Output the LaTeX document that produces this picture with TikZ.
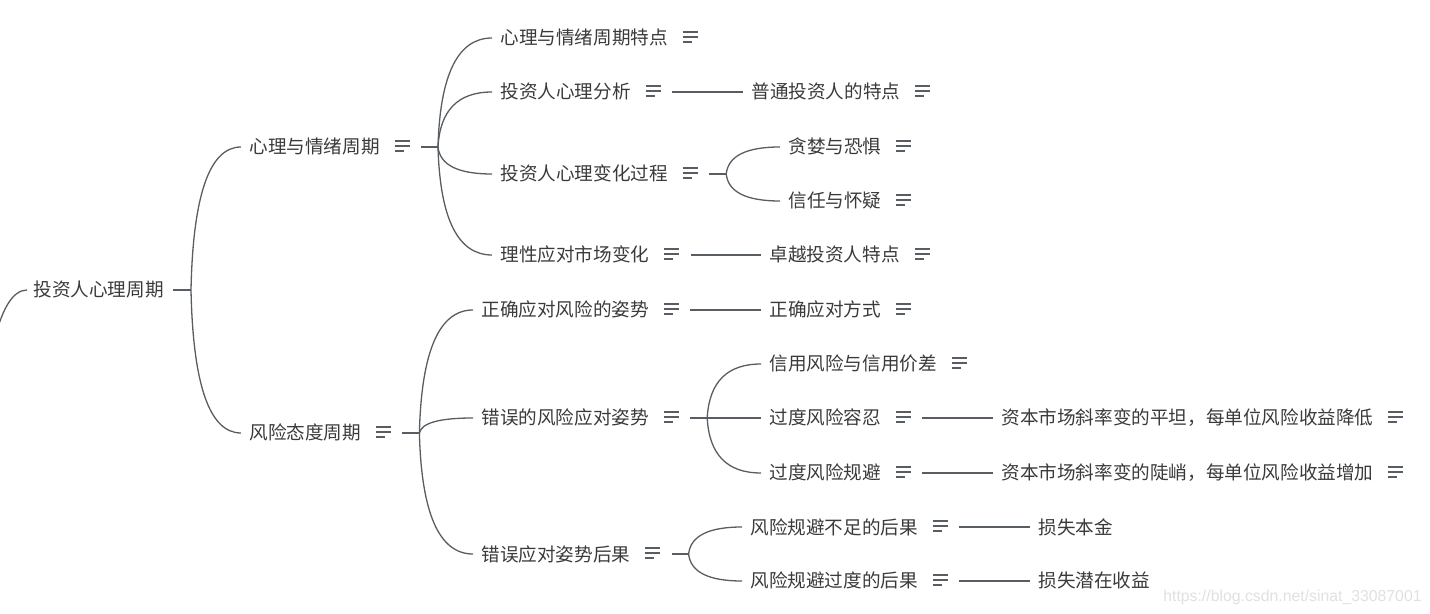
\documentclass[tikz,border=0pt]{standalone}
\usepackage{fontspec}
\setmainfont{Noto Sans CJK SC}
\newfontfamily\wmfont{Liberation Sans}
\usetikzlibrary{calc}
\definecolor{txt}{HTML}{3A3A3A}
\definecolor{linec}{HTML}{585D63}
\definecolor{wm}{HTML}{E0E0E0}
\newcommand\noteic{\hspace{7.5pt}\raisebox{1.2pt}{\color{linec}\vbox{\hrule width 7.5pt height 0.65pt\vskip 1.85pt\hrule width 7.5pt height 0.65pt\vskip 1.85pt\hrule width 4.5pt height 0.65pt}}}
\newcommand\kid[2]{\coordinate (#2in) at ([xshift=-4pt]#2.west);
  \coordinate (#2k) at ($(#1|-#2in)+(1.5pt,0)$);
  \draw[conn] (#1) .. controls ($(#1)!0.667!(#2k)$) and ($(#2in)!0.667!(#2k)$) .. (#2in);}
\newcommand\hub[2]{\coordinate (#2) at ([xshift=14pt]#1.east);
  \draw[conn] ([xshift=5.5pt]#1.east) -- (#2);}
\newcommand\single[2]{\draw[conn] ([xshift=5.5pt]#1.east) -- ([xshift=-4pt]#2.west);}
\begin{document}
\begin{tikzpicture}[x=0.5pt,y=-0.5pt,
  topic/.style={anchor=west,inner sep=0pt,text height=8pt,text depth=1pt,
    font=\fontsize{9.3}{11}\selectfont,text=txt},
  conn/.style={draw=linec,line width=0.65pt}]
\useasboundingbox (0,0) rectangle (1430,614);
% nodes
\node[topic] (r) at (33,290) {投资人心理周期};
\node[topic] (a) at (249,147) {心理与情绪周期\noteic};
\node[topic] (b) at (249,433) {风险态度周期\noteic};
\node[topic] (a1) at (500,38) {心理与情绪周期特点\noteic};
\node[topic] (a2) at (500,92) {投资人心理分析\noteic};
\node[topic] (a2a) at (751,92) {普通投资人的特点\noteic};
\node[topic] (a3) at (500,174) {投资人心理变化过程\noteic};
\node[topic] (a3a) at (788,147) {贪婪与恐惧\noteic};
\node[topic] (a3b) at (788,201) {信任与怀疑\noteic};
\node[topic] (a4) at (500,255) {理性应对市场变化\noteic};
\node[topic] (a4a) at (769,255) {卓越投资人特点\noteic};
\node[topic] (b1) at (481,310) {正确应对风险的姿势\noteic};
\node[topic] (b1a) at (769,310) {正确应对方式\noteic};
\node[topic] (b2) at (481,418) {错误的风险应对姿势\noteic};
\node[topic] (b2a) at (769,364) {信用风险与信用价差\noteic};
\node[topic] (b2b) at (769,418) {过度风险容忍\noteic};
\node[topic] (b2bx) at (1001,418) {资本市场斜率变的平坦，每单位风险收益降低\noteic};
\node[topic] (b2c) at (769,473) {过度风险规避\noteic};
\node[topic] (b2cx) at (1001,473) {资本市场斜率变的陡峭，每单位风险收益增加\noteic};
\node[topic] (b3) at (481,554) {错误应对姿势后果\noteic};
\node[topic] (b3a) at (750,527) {风险规避不足的后果\noteic};
\node[topic] (b3ax) at (1038,527) {损失本金};
\node[topic] (b3b) at (750,581) {风险规避过度的后果\noteic};
\node[topic] (b3bx) at (1038,581) {损失潜在收益};
% root connectors
\coordinate (rin) at (-8,350);
\coordinate (rinend) at ([xshift=-3pt]r.west);
\draw[conn] (rin) .. controls ($(rin)!0.667!(5,290)$) and ($(rinend)!0.667!(5,290)$) .. (rinend);
\coordinate (hR) at ([xshift=13.5pt]r.east);
\draw[conn] ([xshift=4.5pt]r.east) -- (hR);
\kid{hR}{a}
\kid{hR}{b}
% first branch
\hub{a}{hA}
\kid{hA}{a1}
\kid{hA}{a2}
\kid{hA}{a3}
\kid{hA}{a4}
\single{a2}{a2a}
\hub{a3}{hAc}
\kid{hAc}{a3a}
\kid{hAc}{a3b}
\single{a4}{a4a}
% second branch
\hub{b}{hB}
\kid{hB}{b1}
\kid{hB}{b2}
\kid{hB}{b3}
\single{b1}{b1a}
\hub{b2}{hBb}
\kid{hBb}{b2a}
\kid{hBb}{b2b}
\kid{hBb}{b2c}
\single{b2b}{b2bx}
\single{b2c}{b2cx}
\hub{b3}{hBc}
\kid{hBc}{b3a}
\kid{hBc}{b3b}
\single{b3a}{b3ax}
\single{b3b}{b3bx}
% watermark
\node[anchor=east,inner sep=0pt,font=\wmfont\fontsize{7.9}{9}\selectfont,text=wm] (wmk) at (1422,597) {https://blog.csdn.net/sinat\_33087001};
\end{tikzpicture}
\end{document}
